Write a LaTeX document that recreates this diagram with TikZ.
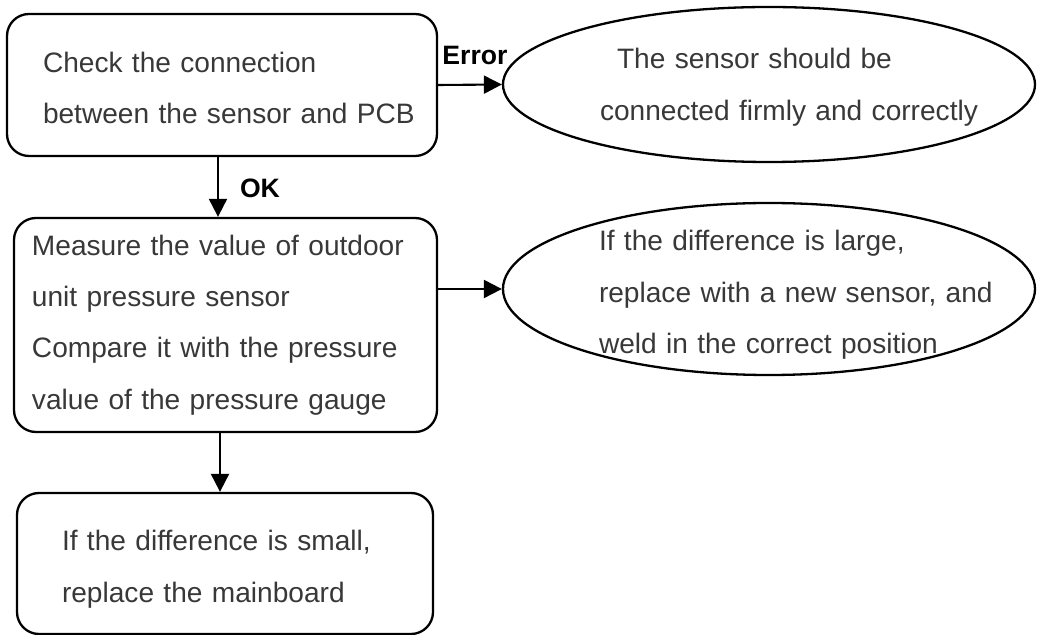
\documentclass[tikz,border=0pt]{standalone}
\usepackage{fontspec}
\setmainfont{Liberation Sans}[Ligatures=NoCommon]
\usetikzlibrary{arrows.meta}
\usetikzlibrary{shapes.geometric}

\begin{document}
\begin{tikzpicture}[x=0.5pt,y=-0.5pt,
        stepbox/.style={draw,line width=1.15pt,rounded corners=11pt,align=left,inner sep=2pt,text=black!78,font=\fontsize{14.05pt}{25.7pt}\selectfont},
        outcome/.style={draw,ellipse,line width=1.15pt,align=left,inner sep=0pt,text=black!78,font=\fontsize{14.05pt}{25.7pt}\selectfont},
        flow/.style={-{Triangle[length=9pt,width=9pt]},line width=1.05pt},
        tag/.style={font=\fontsize{13.3pt}{16pt}\selectfont\bfseries}]
            \useasboundingbox (0,0) rectangle (1037,635);

            \node[stepbox,minimum width=215pt,minimum height=71pt,text width=179pt,text height=13.3pt] (check) at (222,85) {Check the connection\\\mbox{between the sensor and PCB}};
            \node[stepbox,minimum width=211.5pt,minimum height=107pt,text width=193.5pt] (measure) at (225.5,325) {Measure the value of outdoor\\unit pressure sensor\\Compare it with the pressure\\value of the pressure gauge};
            \node[stepbox,minimum width=208pt,minimum height=70.5pt,text width=163pt,text height=15.8pt] (small) at (225,563.5) {If the difference is small,\\replace the mainboard};

            \node[outcome,minimum width=266pt,minimum height=77.5pt,text width=169pt,text height=12.8pt] (firm) at (769,84.5) {\hspace*{8.5pt}The sensor should be\\\mbox{connected firmly and correctly}};
            \node[outcome,minimum width=266pt,minimum height=86pt,text width=170pt,text height=16.3pt,inner ysep=-7pt] (large) at (769,289) {If the difference is large,\\\mbox{replace with a new sensor, and}\\\mbox{weld in the correct position}};

            \node[tag] (errtag) at (475,55) {Error};
            \node[tag] (oktag) at (260,188) {OK};

            \draw[flow] (check.east) -- (firm.west);
            \draw[flow] ([xshift=-2pt]check.south) -- ([xshift=-2pt]check.south |- measure.north);
            \draw[flow] (measure.east |- large.west) -- (large.west);
            \draw[flow] ([xshift=-2.75pt]measure.south) -- ([xshift=-2.75pt]measure.south |- small.north);
        \end{tikzpicture}
\end{document}
